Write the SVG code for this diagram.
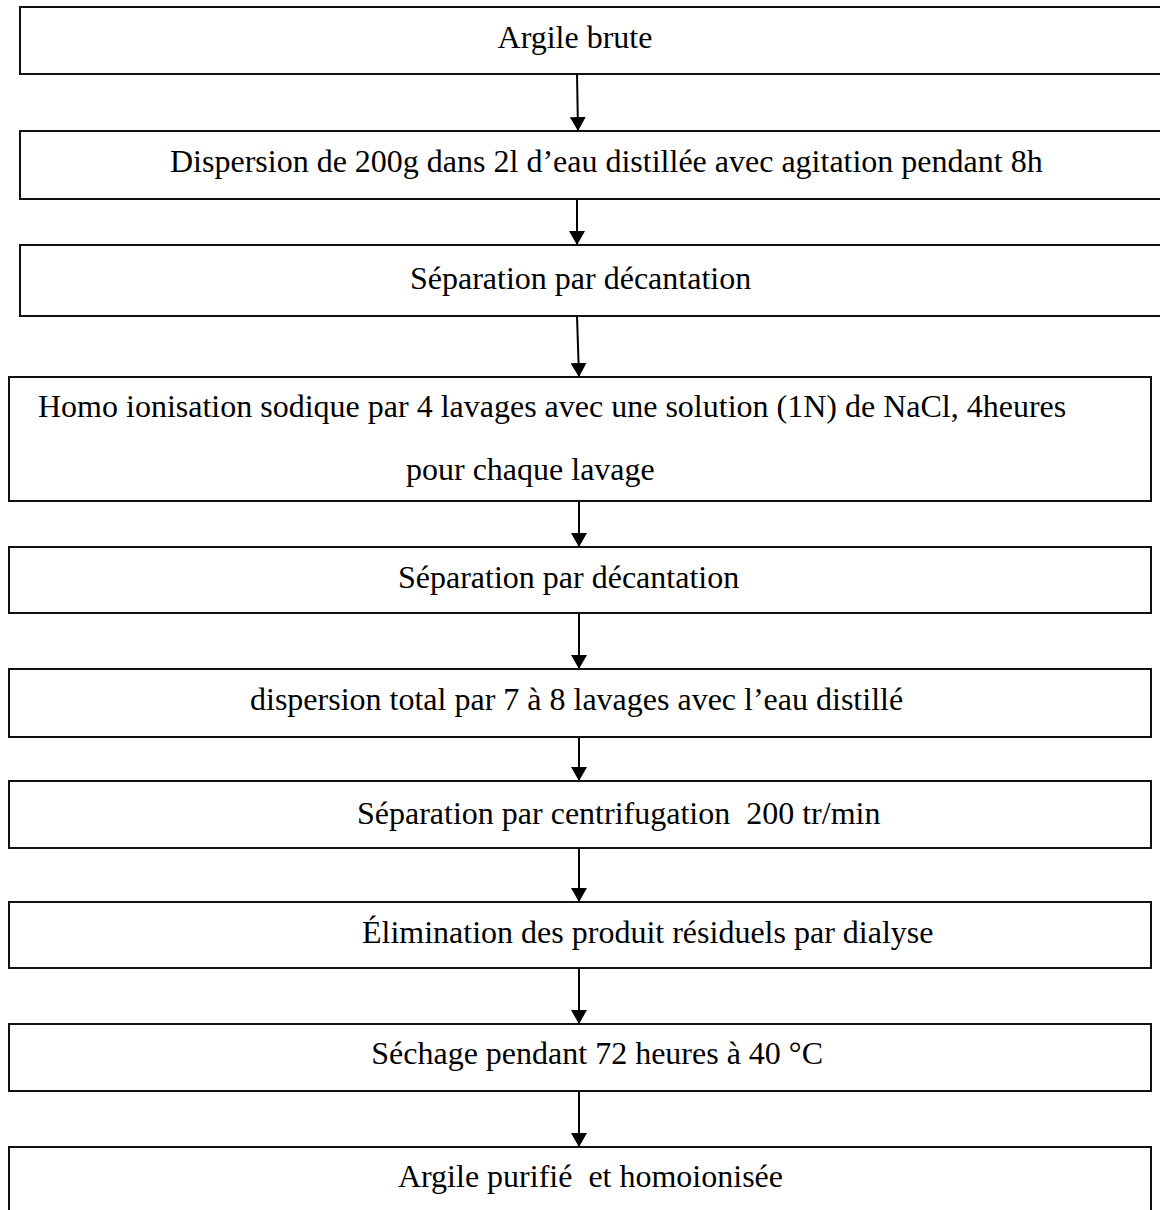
<svg xmlns="http://www.w3.org/2000/svg" width="1160" height="1210" viewBox="0 0 1160 1210">
<defs>
<style>
.box{fill:#fff;stroke:#111;stroke-width:2}
.t{font-family:"Liberation Serif","Times New Roman",serif;font-size:32px;fill:#000;white-space:pre}
.c{stroke:#000;stroke-width:2;fill:none;marker-end:url(#ah)}
</style>
<marker id="ah" markerUnits="userSpaceOnUse" markerWidth="14" markerHeight="16" viewBox="0 0 14 16" refX="14" refY="8" orient="auto">
<path d="M0,0 L14,8 L0,16 z" fill="#000"/>
</marker>
</defs>
<rect width="1160" height="1210" fill="#fff"/>
<g id="connectors">
<line class="c" x1="577" y1="73" x2="578" y2="131"/>
<line class="c" x1="577" y1="199" x2="577" y2="245"/>
<line class="c" x1="577" y1="316" x2="579" y2="377"/>
<line class="c" x1="579" y1="501" x2="579" y2="547"/>
<line class="c" x1="579" y1="613" x2="579" y2="669"/>
<line class="c" x1="579" y1="737" x2="579" y2="781"/>
<line class="c" x1="579" y1="848" x2="579" y2="902"/>
<line class="c" x1="579" y1="968" x2="579" y2="1024"/>
<line class="c" x1="579" y1="1091" x2="579" y2="1147"/>
</g>
<g id="n1"><rect class="box" x="20" y="7" width="1160" height="67"/><text class="t" x="575" y="48" text-anchor="middle">Argile brute</text></g>
<g id="n2"><rect class="box" x="20" y="131" width="1160" height="68"/><text class="t" x="170" y="172">Dispersion de 200g dans 2l d’eau distillée avec agitation pendant 8h</text></g>
<g id="n3"><rect class="box" x="20" y="245" width="1160" height="71"/><text class="t" x="410" y="289">Séparation par décantation</text></g>
<g id="n4"><rect class="box" x="9" y="377" width="1142" height="124"/><text class="t" x="38" y="417">Homo ionisation sodique par 4 lavages avec une solution (1N) de NaCl, 4heures</text><text class="t" x="406" y="480">pour chaque lavage</text></g>
<g id="n5"><rect class="box" x="9" y="547" width="1142" height="66"/><text class="t" x="398" y="588">Séparation par décantation</text></g>
<g id="n6"><rect class="box" x="9" y="669" width="1142" height="68"/><text class="t" x="250" y="710">dispersion total par 7 à 8 lavages avec l’eau distillé</text></g>
<g id="n7"><rect class="box" x="9" y="781" width="1142" height="67"/><text class="t" x="357" y="824">Séparation par centrifugation  200 tr/min</text></g>
<g id="n8"><rect class="box" x="9" y="902" width="1142" height="66"/><text class="t" x="362" y="943">Élimination des produit résiduels par dialyse</text></g>
<g id="n9"><rect class="box" x="9" y="1024" width="1142" height="67"/><text class="t" x="823" y="1064" text-anchor="end">Séchage pendant 72 heures à 40 °C</text></g>
<g id="n10"><rect class="box" x="9" y="1147" width="1142" height="80"/><text class="t" x="783" y="1187" text-anchor="end">Argile purifié  et homoionisée</text></g>
</svg>
